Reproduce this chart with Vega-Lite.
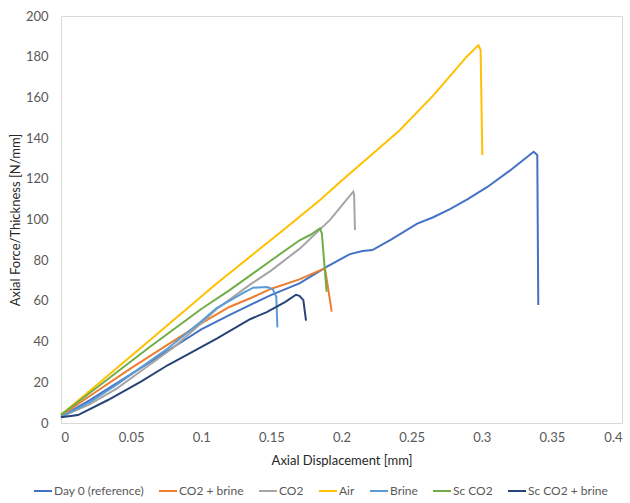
{
  "$schema": "https://vega.github.io/schema/vega-lite/v6.json",
  "autosize": {"type": "none"},
  "width": 561,
  "height": 407,
  "padding": {"left": 61, "top": 16, "right": 8, "bottom": 80},
  "background": "white",
  "config": {
    "font": "Lato",
    "view": {"stroke": "#d9d9d9", "strokeWidth": 1},
    "axis": {"grid": false, "ticks": false, "domain": false, "labelColor": "#595959", "labelFontSize": 13, "titleColor": "#262626", "titleFontSize": 13, "titleFontWeight": "normal"}
  },
  "data": {
    "values": [
      {"s": "Day 0 (reference)", "i": 0, "x": 0, "y": 3},
      {"s": "Day 0 (reference)", "i": 1, "x": 0.02, "y": 11},
      {"s": "Day 0 (reference)", "i": 2, "x": 0.05, "y": 24},
      {"s": "Day 0 (reference)", "i": 3, "x": 0.075, "y": 35},
      {"s": "Day 0 (reference)", "i": 4, "x": 0.1, "y": 46},
      {"s": "Day 0 (reference)", "i": 5, "x": 0.12, "y": 53},
      {"s": "Day 0 (reference)", "i": 6, "x": 0.135, "y": 58},
      {"s": "Day 0 (reference)", "i": 7, "x": 0.15, "y": 63},
      {"s": "Day 0 (reference)", "i": 8, "x": 0.17, "y": 68.6},
      {"s": "Day 0 (reference)", "i": 9, "x": 0.19, "y": 77},
      {"s": "Day 0 (reference)", "i": 10, "x": 0.206, "y": 83},
      {"s": "Day 0 (reference)", "i": 11, "x": 0.215, "y": 84.5},
      {"s": "Day 0 (reference)", "i": 12, "x": 0.222, "y": 85},
      {"s": "Day 0 (reference)", "i": 13, "x": 0.235, "y": 90},
      {"s": "Day 0 (reference)", "i": 14, "x": 0.254, "y": 98},
      {"s": "Day 0 (reference)", "i": 15, "x": 0.265, "y": 101},
      {"s": "Day 0 (reference)", "i": 16, "x": 0.277, "y": 105},
      {"s": "Day 0 (reference)", "i": 17, "x": 0.29, "y": 110},
      {"s": "Day 0 (reference)", "i": 18, "x": 0.304, "y": 116},
      {"s": "Day 0 (reference)", "i": 19, "x": 0.32, "y": 124},
      {"s": "Day 0 (reference)", "i": 20, "x": 0.337, "y": 133.3},
      {"s": "Day 0 (reference)", "i": 21, "x": 0.3396, "y": 131.7},
      {"s": "Day 0 (reference)", "i": 22, "x": 0.3403, "y": 58},
      {"s": "CO2 + brine", "i": 0, "x": 0, "y": 3.5},
      {"s": "CO2 + brine", "i": 1, "x": 0.02, "y": 13},
      {"s": "CO2 + brine", "i": 2, "x": 0.05, "y": 27},
      {"s": "CO2 + brine", "i": 3, "x": 0.075, "y": 38},
      {"s": "CO2 + brine", "i": 4, "x": 0.1, "y": 49},
      {"s": "CO2 + brine", "i": 5, "x": 0.12, "y": 57},
      {"s": "CO2 + brine", "i": 6, "x": 0.135, "y": 61.3},
      {"s": "CO2 + brine", "i": 7, "x": 0.15, "y": 66},
      {"s": "CO2 + brine", "i": 8, "x": 0.17, "y": 70.6},
      {"s": "CO2 + brine", "i": 9, "x": 0.183, "y": 74.5},
      {"s": "CO2 + brine", "i": 10, "x": 0.1882, "y": 76},
      {"s": "CO2 + brine", "i": 11, "x": 0.1905, "y": 66},
      {"s": "CO2 + brine", "i": 12, "x": 0.193, "y": 54.7},
      {"s": "CO2", "i": 0, "x": 0, "y": 3},
      {"s": "CO2", "i": 1, "x": 0.02, "y": 9},
      {"s": "CO2", "i": 2, "x": 0.04, "y": 17},
      {"s": "CO2", "i": 3, "x": 0.06, "y": 27},
      {"s": "CO2", "i": 4, "x": 0.08, "y": 37},
      {"s": "CO2", "i": 5, "x": 0.1, "y": 49},
      {"s": "CO2", "i": 6, "x": 0.111, "y": 56},
      {"s": "CO2", "i": 7, "x": 0.1348, "y": 68},
      {"s": "CO2", "i": 8, "x": 0.15, "y": 75},
      {"s": "CO2", "i": 9, "x": 0.1704, "y": 85.8},
      {"s": "CO2", "i": 10, "x": 0.1918, "y": 99.8},
      {"s": "CO2", "i": 11, "x": 0.2084, "y": 113.7},
      {"s": "CO2", "i": 12, "x": 0.209, "y": 112},
      {"s": "CO2", "i": 13, "x": 0.2096, "y": 94.8},
      {"s": "Air", "i": 0, "x": 0, "y": 4},
      {"s": "Air", "i": 1, "x": 0.02, "y": 15.5},
      {"s": "Air", "i": 2, "x": 0.0635, "y": 40.8},
      {"s": "Air", "i": 3, "x": 0.111, "y": 68.6},
      {"s": "Air", "i": 4, "x": 0.1585, "y": 94.8},
      {"s": "Air", "i": 5, "x": 0.1847, "y": 109.6},
      {"s": "Air", "i": 6, "x": 0.2, "y": 119},
      {"s": "Air", "i": 7, "x": 0.22, "y": 131},
      {"s": "Air", "i": 8, "x": 0.2417, "y": 144},
      {"s": "Air", "i": 9, "x": 0.2655, "y": 161},
      {"s": "Air", "i": 10, "x": 0.2893, "y": 180},
      {"s": "Air", "i": 11, "x": 0.2976, "y": 185.7},
      {"s": "Air", "i": 12, "x": 0.2992, "y": 183.3},
      {"s": "Air", "i": 13, "x": 0.3004, "y": 131.7},
      {"s": "Brine", "i": 0, "x": 0, "y": 3},
      {"s": "Brine", "i": 1, "x": 0.02, "y": 10},
      {"s": "Brine", "i": 2, "x": 0.04, "y": 19},
      {"s": "Brine", "i": 3, "x": 0.0763, "y": 36.7},
      {"s": "Brine", "i": 4, "x": 0.1, "y": 50},
      {"s": "Brine", "i": 5, "x": 0.111, "y": 56.5},
      {"s": "Brine", "i": 6, "x": 0.13, "y": 64},
      {"s": "Brine", "i": 7, "x": 0.137, "y": 66.5},
      {"s": "Brine", "i": 8, "x": 0.147, "y": 66.8},
      {"s": "Brine", "i": 9, "x": 0.151, "y": 65.7},
      {"s": "Brine", "i": 10, "x": 0.1535, "y": 62},
      {"s": "Brine", "i": 11, "x": 0.1543, "y": 47},
      {"s": "Sc CO2", "i": 0, "x": 0, "y": 4},
      {"s": "Sc CO2", "i": 1, "x": 0.02, "y": 14.5},
      {"s": "Sc CO2", "i": 2, "x": 0.0635, "y": 37.5},
      {"s": "Sc CO2", "i": 3, "x": 0.1, "y": 56},
      {"s": "Sc CO2", "i": 4, "x": 0.1205, "y": 65.4},
      {"s": "Sc CO2", "i": 5, "x": 0.15, "y": 80},
      {"s": "Sc CO2", "i": 6, "x": 0.1704, "y": 89.9},
      {"s": "Sc CO2", "i": 7, "x": 0.178, "y": 92.5},
      {"s": "Sc CO2", "i": 8, "x": 0.1847, "y": 95.7},
      {"s": "Sc CO2", "i": 9, "x": 0.186, "y": 93},
      {"s": "Sc CO2", "i": 10, "x": 0.1894, "y": 64.5},
      {"s": "Sc CO2 + brine", "i": 0, "x": 0, "y": 2.8},
      {"s": "Sc CO2 + brine", "i": 1, "x": 0.0121, "y": 3.9},
      {"s": "Sc CO2 + brine", "i": 2, "x": 0.0335, "y": 11.3},
      {"s": "Sc CO2 + brine", "i": 3, "x": 0.0573, "y": 20.5},
      {"s": "Sc CO2 + brine", "i": 4, "x": 0.0763, "y": 28.5},
      {"s": "Sc CO2 + brine", "i": 5, "x": 0.095, "y": 35.5},
      {"s": "Sc CO2 + brine", "i": 6, "x": 0.111, "y": 41.5},
      {"s": "Sc CO2 + brine", "i": 7, "x": 0.1348, "y": 51},
      {"s": "Sc CO2 + brine", "i": 8, "x": 0.1467, "y": 54.5},
      {"s": "Sc CO2 + brine", "i": 9, "x": 0.16, "y": 59.5},
      {"s": "Sc CO2 + brine", "i": 10, "x": 0.1675, "y": 63},
      {"s": "Sc CO2 + brine", "i": 11, "x": 0.17, "y": 62.5},
      {"s": "Sc CO2 + brine", "i": 12, "x": 0.1728, "y": 60.4},
      {"s": "Sc CO2 + brine", "i": 13, "x": 0.1747, "y": 50.3}
    ]
  },
  "mark": {"type": "line", "strokeWidth": 2, "interpolate": "linear"},
  "encoding": {
    "x": {"field": "x", "type": "quantitative", "scale": {"domain": [0, 0.4], "nice": false}, "axis": {"values": [0, 0.05, 0.1, 0.15, 0.2, 0.25, 0.3, 0.35, 0.4], "labelExpr": "datum.value == 0 ? '0' : format(datum.value, '.2~f')", "labelPadding": 8, "title": "Axial Displacement [mm]", "titlePadding": 10}},
    "y": {"field": "y", "type": "quantitative", "scale": {"domain": [0, 200], "nice": false}, "axis": {"values": [0, 20, 40, 60, 80, 100, 120, 140, 160, 180, 200], "labelPadding": 13, "title": "Axial Force/Thickness [N/mm]", "titlePadding": 3}},
    "order": {"field": "i", "type": "quantitative"},
    "color": {"field": "s", "type": "nominal", "scale": {"domain": ["Day 0 (reference)", "CO2 + brine", "CO2", "Air", "Brine", "Sc CO2", "Sc CO2 + brine"], "range": ["#4472C4", "#ED7D31", "#A5A5A5", "#FFC000", "#5B9BD5", "#70AD47", "#264478"]}, "legend": {"orient": "none", "legendX": -28, "legendY": 465, "direction": "horizontal", "title": null, "symbolType": "stroke", "symbolSize": 324, "symbolStrokeWidth": 2, "labelFontSize": 12, "labelColor": "#595959", "labelOffset": 1, "columnPadding": 11}}
  }
}
